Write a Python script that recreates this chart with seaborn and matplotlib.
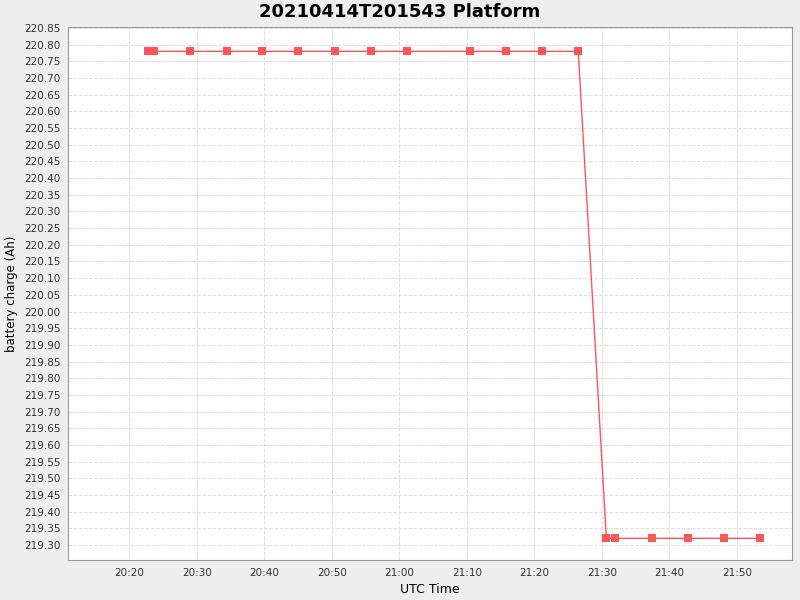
import matplotlib
matplotlib.use("Agg")
import matplotlib.pyplot as plt
import matplotlib.dates as mdates
import seaborn as sns
import pandas as pd
import numpy as np

times = ["20:22:50", "20:23:35", "20:29:00", "20:34:25", "20:39:35", "20:45:00",
         "20:50:25", "20:55:50", "21:01:05", "21:10:25", "21:15:50", "21:21:05",
         "21:26:30", "21:30:40", "21:31:55", "21:37:25", "21:42:50", "21:48:10",
         "21:53:30"]
charge = [220.78] * 13 + [219.32] * 6

df = pd.DataFrame({"t": pd.to_datetime(["2021-04-14 " + s for s in times]), "c": charge})

sns.set_style("white")
fig = plt.figure(figsize=(8, 6), dpi=100, facecolor="#EEEEEE")
ax = fig.add_axes([68/800, 1-560/600, (792-68)/800, (560-27)/600])
ax.set_facecolor("white")
sns.lineplot(data=df, x="t", y="c", ax=ax, color="#FF5555", marker="s",
             markersize=6, markeredgewidth=0, linewidth=1)
ax.set_xlim(pd.Timestamp("2021-04-14 20:10:55"), pd.Timestamp("2021-04-14 21:58:10"))
ax.set_ylim(219.255, 220.853)
ax.set_yticks(np.round(np.arange(219.30, 220.851, 0.05), 2))
ax.yaxis.set_major_formatter(matplotlib.ticker.FormatStrFormatter("%.2f"))
ax.xaxis.set_major_locator(mdates.MinuteLocator(byminute=range(0, 60, 10)))
ax.xaxis.set_major_formatter(mdates.DateFormatter("%H:%M"))
ax.tick_params(labelsize=7.5, length=2, colors="#333333")
ax.grid(True, color="#DDDDDD", linestyle="--", linewidth=0.7)
for s in ax.spines.values():
    s.set_color("#999999"); s.set_linewidth(0.8)
ax.set_xlabel("UTC Time", fontsize=9, color="black")
ax.set_ylabel("battery charge (Ah)", fontsize=8.5, color="black")
fig.suptitle("20210414T201543 Platform", fontsize=13, fontweight="bold", y=0.995, color="black")
fig.savefig("out.png", dpi=100, facecolor=fig.get_facecolor())
